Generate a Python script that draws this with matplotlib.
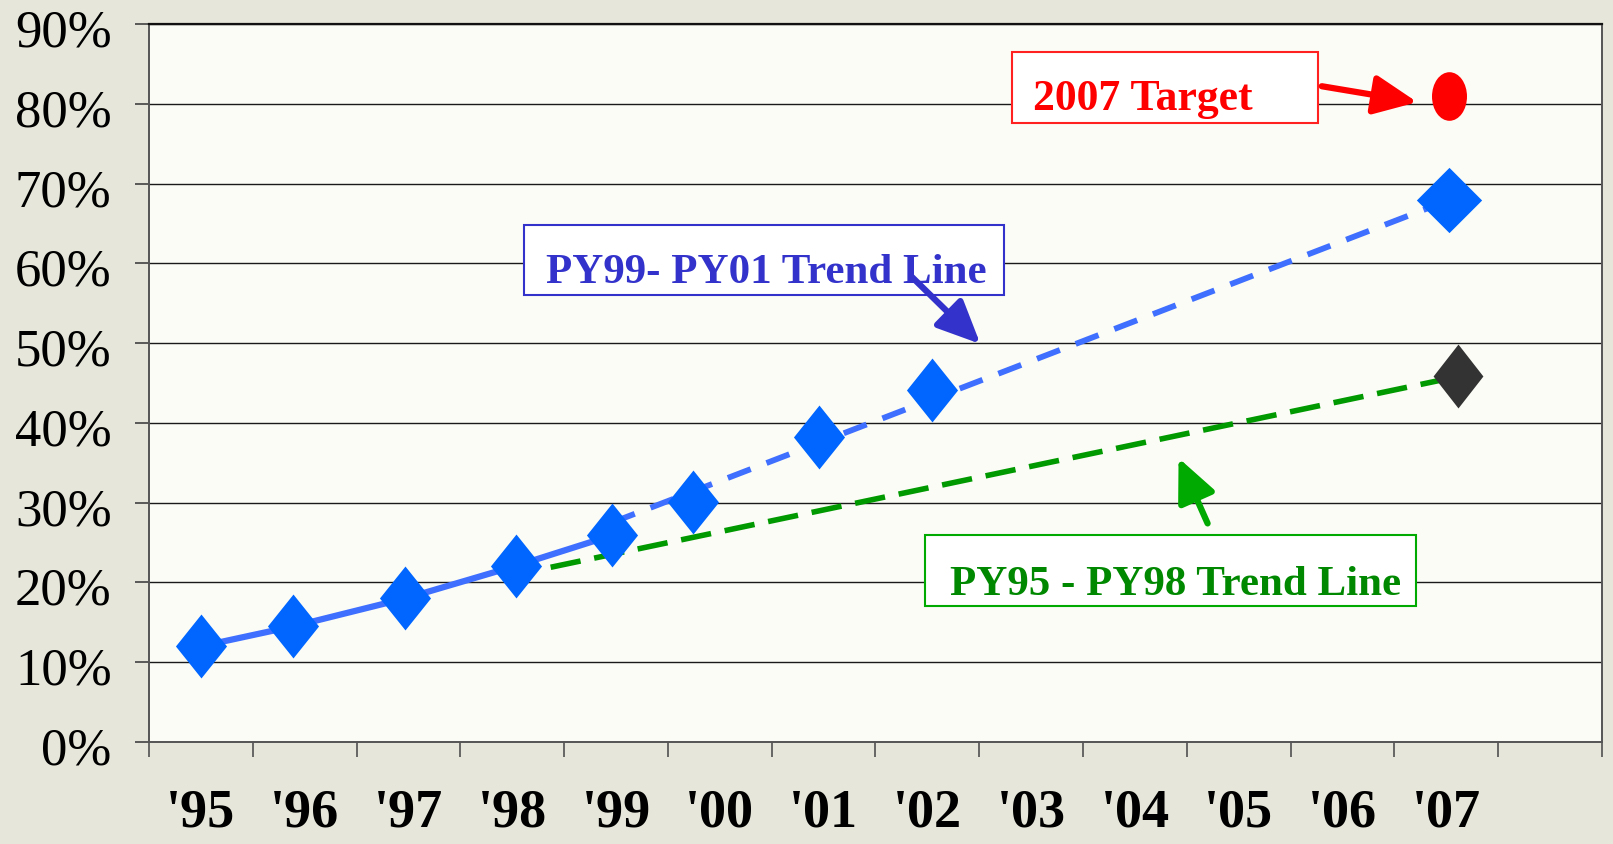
import matplotlib
matplotlib.use("Agg")
import matplotlib.pyplot as plt
from matplotlib.path import Path
from matplotlib.patches import Rectangle
from matplotlib.transforms import Affine2D, ScaledTranslation

# ---------------- data ----------------
year_labels = ["'95", "'96", "'97", "'98", "'99", "'00", "'01", "'02",
               "'03", "'04", "'05", "'06", "'07"]
actual_x = [0.0, 0.89, 1.97, 3.04, 3.96, 4.74, 5.96, 7.04]
actual_y = [12.0, 14.5, 18.0, 22.1, 25.9, 30.1, 38.2, 44.1]
solid_count = 5                      # '95 .. '99 joined by solid line
trend_9901_x = [3.96, 12.0]
trend_9901_y = [27.5, 67.8]
proj_9901_x = [12.03]
proj_9901_y = [68.0]
trend_9598_x = [3.37, 12.0]
trend_9598_y = [21.9, 45.5]
proj_9598_x = [12.11]
proj_9598_y = [45.9]
target_x = [12.03]
target_y = [81.0]
y_ticks = [0, 10, 20, 30, 40, 50, 60, 70, 80, 90]

# ---------------- style ----------------
SERIF = "Liberation Serif"
W, H = 1613, 845
fig = plt.figure(figsize=(W / 100, H / 100), dpi=100)
fig.patch.set_facecolor("#e6e6da")

L, R, T, B = 149, 1602, 25, 743
ax = fig.add_axes([L / W, (H - B) / H, (R - L) / W, (B - T) / H])
ax.set_facecolor("#fcfcf6")
cat_w = 104.0
ax.set_xlim(-0.5, -0.5 + (R - L) / cat_w)
ax.set_ylim(0, 90)

# spines
for s in ["left", "bottom", "right"]:
    ax.spines[s].set_color("#555555")
    ax.spines[s].set_linewidth(1.4)
ax.spines["top"].set_color("#111111")
ax.spines["top"].set_linewidth(1.6)

# y axis
ax.set_yticks(y_ticks)
ax.set_yticklabels([f"{v}%" for v in y_ticks], fontfamily=SERIF, fontsize=38)
ax.tick_params(axis="y", direction="out", length=10, width=1.1,
               color="#333333", pad=17)
ax.yaxis.grid(True, color="#1a1a1a", linewidth=1.0)
ax.set_axisbelow(True)
for lab in ax.get_yticklabels():
    lab.set_transform(lab.get_transform() +
                      ScaledTranslation(0, -3 / 100, fig.dpi_scale_trans))

# x axis: boundaries as major ticks, labels at centres via minor ticks
n_cat = len(year_labels) + 1
ax.set_xticks([i - 0.5 for i in range(n_cat + 1)])
ax.set_xticklabels([])
ax.tick_params(axis="x", which="major", direction="out", length=11,
               width=1.1, color="#444444")
ax.set_xticks(range(len(year_labels)), minor=True)
ax.set_xticklabels(year_labels, minor=True, fontfamily=SERIF,
                   fontsize=39, fontweight="bold")
ax.tick_params(axis="x", which="minor", length=0, pad=33)

# markers
def diamond(wr):
    return Path([(0, 1), (wr, 0), (0, -1), (-wr, 0), (0, 1)],
                [Path.MOVETO, Path.LINETO, Path.LINETO, Path.LINETO,
                 Path.CLOSEPOLY])

tall_d = diamond(0.8)
square_d = diamond(1.0)
black_d = diamond(0.78)
ellipse = Path.unit_circle().transformed(Affine2D().scale(0.72, 1.0))

line_blue = "#3f6fff"
mark_blue = "#0066ff"
green = "#009900"

# lines
ax.plot(actual_x[:solid_count], actual_y[:solid_count], color=line_blue,
        lw=4.5, solid_capstyle="butt", zorder=3)
ax.plot(trend_9901_x, trend_9901_y, color=line_blue, lw=4.2,
        dashes=(4.2, 2.9), dash_capstyle="butt", zorder=3)
ax.plot(trend_9598_x, trend_9598_y, color=green, lw=4.0,
        dashes=(5.5, 2.5), dash_capstyle="butt", zorder=3)

# points
ax.plot(actual_x, actual_y, linestyle="none", marker=tall_d,
        markersize=46, color=mark_blue, markeredgewidth=0, zorder=4)
ax.plot(proj_9901_x, proj_9901_y, linestyle="none", marker=square_d,
        markersize=47, color=mark_blue, markeredgewidth=0, zorder=4)
ax.plot(proj_9598_x, proj_9598_y, linestyle="none", marker=black_d,
        markersize=46, color="#333333", markeredgewidth=0, zorder=4)
ax.plot(target_x, target_y, linestyle="none", marker=ellipse,
        markersize=35, color="#ff0000", markeredgewidth=0, zorder=4)

# annotation boxes
def box(x0, y0, x1, y1, ec, text, tx, ty, tc, fs):
    ax.add_patch(Rectangle((x0, y1), x1 - x0, y0 - y1, facecolor="white",
                           edgecolor=ec, linewidth=1.5, zorder=5))
    ax.text(tx, ty, text, color=tc, fontfamily=SERIF, fontweight="bold",
            fontsize=fs, ha="left", va="baseline", zorder=6)

box(7.817, 86.55, 10.76, 77.53, "#ff2020", "2007 Target", 8.02, 79.4,
    "#ff0000", 31.5)
box(3.11, 64.77, 7.74, 55.99, "#3333cc", "PY99- PY01 Trend Line", 3.33,
    57.6, "#3333cc", 31)
box(6.98, 25.95, 11.71, 17.05, "#00aa00", "PY95 - PY98 Trend Line", 7.22,
    18.6, "#008800", 31)

# arrows
def arrow(x0, y0, x1, y1, c):
    ax.annotate("", xy=(x1, y1), xytext=(x0, y0),
                arrowprops=dict(arrowstyle="-|>,head_length=1.1,head_width=0.5",
                                mutation_scale=24, lw=4.5, color=c,
                                shrinkA=0, shrinkB=0),
                zorder=7)

arrow(6.85, 58.3, 7.51, 49.9, "#3333cc")
arrow(9.70, 27.4, 9.42, 35.6, "#00aa00")
arrow(10.80, 82.2, 11.72, 80.2, "#ff0000")

fig.savefig("out.png", dpi=100, facecolor=fig.get_facecolor())
